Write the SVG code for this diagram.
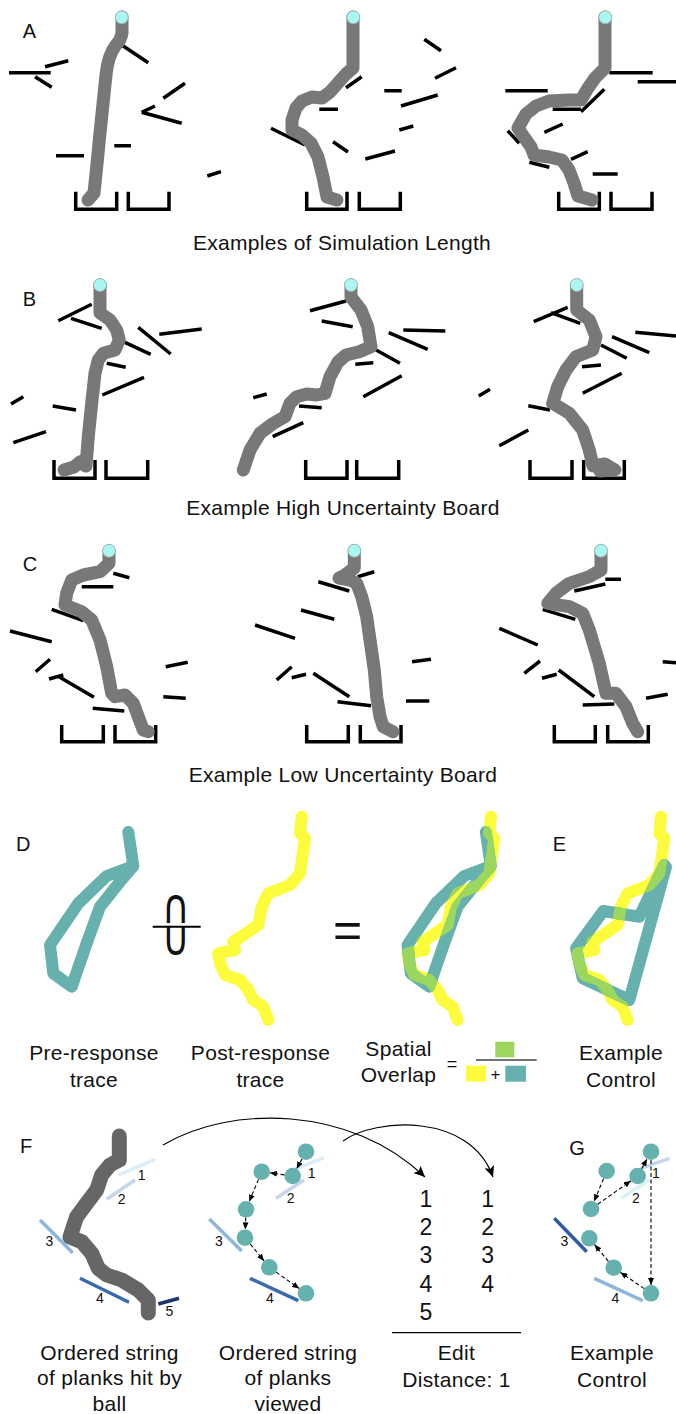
<svg xmlns="http://www.w3.org/2000/svg" width="676" height="1414" viewBox="0 0 676 1414">
<style>
text{font-family:"Liberation Sans",Arial,Helvetica,sans-serif;fill:#111}
.lbl{font-size:20px}
.cap{font-size:21px;text-anchor:middle;letter-spacing:0.3px}
.pl{stroke:#000;stroke-width:3.5;fill:none}
.bk{stroke:#000;stroke-width:3.5;fill:none;stroke-linejoin:miter}
.tr{fill:none;stroke:#787878;stroke-width:13;stroke-linecap:round;stroke-linejoin:round}
.ball{fill:#aaf6f0;stroke:#9aa;stroke-width:0.8}
.num{font-size:14px;text-anchor:middle}
.dig{font-size:23px;text-anchor:middle}
.dash{stroke:#000;stroke-width:1.1;stroke-dasharray:4 2.5;fill:none;marker-end:url(#ah)}
.big{stroke:#000;stroke-width:1.2;fill:none;marker-end:url(#bh)}
.dot{fill:#65b1ad}
.cp{fill:none;stroke-width:3.5}
.op{font-family:"DejaVu Sans",sans-serif;font-size:38px;text-anchor:middle}
</style>
<defs>
<marker id="ah" markerUnits="userSpaceOnUse" markerWidth="7" markerHeight="6" refX="7" refY="3" orient="auto"><path d="M0,0 L7,3 L0,6 z" fill="#000"/></marker>
<marker id="bh" markerUnits="userSpaceOnUse" markerWidth="12" markerHeight="10" refX="11" refY="5" orient="auto"><path d="M0,0 L11,5 L0,10 L2.5,5 z" fill="#000"/></marker>
<path id="pre" d="M128.3,832 L133.3,866 L106.7,876 L78.3,903.3 L50,945 L53.3,973.3 L71.7,986.7 L86.7,943.3 L100,906.7 L120,881.7 L133.3,866" fill="none" stroke-width="12" stroke-linecap="round" stroke-linejoin="round"/>
<path id="post" d="M301.7,816.7 L300,833.3 L305,838.3 L300,873.3 L290,885 L268.3,893.3 L261.7,906.7 L258.3,925 L233.3,941.7 L235,950 L218.3,953.3 L220,963.3 L225,975 L240,980 L248.3,990 L253.3,1000 L263.3,1006.7 L268.3,1020" fill="none" stroke-width="12" stroke-linecap="round" stroke-linejoin="round"/>
<path id="ctrl" d="M664.3,865 L639.3,916.7 L603.3,911 L576,948.3 L582.7,978.3 L629.3,1000 L666,867" fill="none" stroke-width="12" stroke-linecap="round" stroke-linejoin="round"/>
<mask id="mOv" maskUnits="userSpaceOnUse" x="0" y="0" width="676" height="1414"><use href="#post" transform="translate(189.3,0)" stroke="#fff"/></mask>
<mask id="mE" maskUnits="userSpaceOnUse" x="0" y="0" width="676" height="1414"><use href="#post" transform="translate(359.3,0)" stroke="#fff"/></mask>
</defs>
<rect width="676" height="1414" fill="#fff"/>

<!-- Panel A -->
<g id="panelA">
<text class="lbl" x="22.7" y="37.7">A</text>
<g id="A1">
<path class="pl" d="M9,72.7 L50.7,72.7 M45,66.7 L68.3,60.7 M35,76.7 L51.7,87.3 M121.7,45 L148.3,62.7 M163.3,98.3 L185,83.3 M141.7,112.3 L181.7,123.3 M141.7,112.3 L155,106 M114.3,145.7 L131,145.7 M56,155.7 L84,155.7 M207.3,176 L221,171.7"/>
<path class="bk" d="M75.7,191.7 V209.3 H116.7 V191.7 M128.3,191.7 V209.3 H169 V191.7"/>
<path class="tr" d="M122,17 L122,33 Q121,40 116,45 Q108,55 106,75 L100,133 L96.7,167 L94,193 L88,200"/>
<circle class="ball" cx="121.7" cy="17.3" r="6.5"/>
</g>
<g id="A2">
<path class="pl" d="M271,128.3 L305,145 M319.3,109.3 L338,109.3 M333,141.7 L348,152 M346,87.7 L361.7,76.7 M384.3,90.7 L401.7,90.7 M424.3,39.3 L441,50.7 M435,78.3 L456,67.7 M401,106 L437.7,95 M399.3,130 L413.3,126 M365.3,159 L395,151"/>
<path class="bk" d="M306.7,191.7 V209.3 H347 V191.7 M359.3,191.7 V209.3 H400.3 V191.7"/>
<path class="tr" d="M353,17 L353,68 L346,74 L338,83 L330,92 L322,98 L312,97 L302,101 L296,108 L292,120 L292,130 L302,135 L311,143 L318,157 L323,177 L327,197 L337,200"/>
<circle class="ball" cx="353.3" cy="17.3" r="6.5"/>
</g>
<g id="A3">
<path class="pl" d="M505.3,90.7 L547.7,90.7 M609.3,72.7 L652.7,72.7 M637.7,81.7 L676,81.7 M552.7,109.3 L581,109.3 M581,111.7 L604.3,89.3 M507.7,130.7 L519.3,143.3 M544.3,132.3 L562.7,124 M529.3,162.3 L549.3,167.3 M571,159.3 L587.7,151.7 M592.7,174 L617.7,174"/>
<path class="bk" d="M558.7,191.7 V209.3 H599.3 V191.7 M611,191.7 V209.3 H652 V191.7"/>
<path class="tr" d="M605,17 L605,68 L595,78 L588,88 L581,100 L569,100 L549,101 L536,106 L526,114 L518,128 L524,137 L531,147 L534,155 L549,157 L562,160 L569,170 L574,183 L578,196 L592,200"/>
<circle class="ball" cx="605.3" cy="17.3" r="6.5"/>
</g>
<text class="cap" x="342" y="250">Examples of Simulation Length</text>
</g>

<!-- Panel B -->
<g id="panelB">
<text class="lbl" x="22.7" y="306">B</text>
<g id="B1">
<path class="pl" d="M58.3,320.7 L91.7,304.3 M71,318.3 L101.7,328.3 M123.3,341.7 L150.7,354.3 M138.3,327.3 L170.7,354 M159.3,334.3 L201.7,329 M106.7,363.3 L125.7,367.3 M102.3,395 L144,377.3 M11,404 L23.3,396.7 M52.7,406 L76,410 M13.3,442.7 L46,431.7"/>
<path class="bk" d="M54,460 V478.3 H95 V460 M106,460 V478.3 H147.7 V460"/>
<path class="tr" d="M100,285 L100,313 L110,320 L116.7,330 L119.3,340 L115,350 L103.3,353.3 L98.3,360 L95,373.3 L91.7,403.3 L88.3,436.7 L86,466 L80,462 L74,467 L64,470"/>
<circle class="ball" cx="100" cy="285" r="6.5"/>
</g>
<g id="B2">
<path class="pl" d="M310,310.7 L346,301 M321.7,321 L352.7,326.7 M374.3,349 L400,363.3 M388.7,332.7 L427.7,349.3 M403.3,330 L445.3,331 M355.3,364.3 L373.3,362.7 M363.3,396.7 L401.7,375.7 M253.3,397.7 L266.7,394 M299,406 L321.7,407.7 M272.7,436.7 L303.3,422.7"/>
<path class="bk" d="M305.7,460 V478.3 H347 V460 M356.7,460 V478.3 H398.7 V460"/>
<path class="tr" d="M351,285 L351,297 L361,310 L367.7,326.7 L371,346.7 L359.3,351.7 L346,355 L338,362 L330,376.7 L325,393.3 L316.7,395 L306.7,394 L296.7,396.7 L290,403.3 L285,416.7 L273.3,423.3 L260,433.3 L250,450 L243.3,470"/>
<circle class="ball" cx="351" cy="285" r="6.5"/>
</g>
<g id="B3">
<path class="pl" d="M533.7,321.7 L567.7,307.3 M551,312.7 L580.3,323.3 M601,345 L626.7,358.3 M612,336.7 L649.3,352.7 M635.3,332.3 L676,336 M582,366.7 L601,365 M582.7,393.3 L621.7,373.3 M528.3,405.7 L550,410 M499.3,445.7 L528.3,430 M478.7,396 L490,389.3"/>
<path class="bk" d="M530,460 V478.3 H572 V460 M583.7,460 V478.3 H624.3 V460"/>
<path class="tr" d="M576.7,285 L576.7,310 L589.3,320 L596,336.7 L592.7,350 L576,356.7 L566,370 L557.7,386.7 L552.7,403.3 L569.3,413.3 L582.7,430 L589.3,450 L593,466 L605,464 L615,470 L600,471"/>
<circle class="ball" cx="576.7" cy="285" r="6.5"/>
</g>
<text class="cap" x="343" y="515">Example High Uncertainty Board</text>
</g>

<!-- Panel C -->
<g id="panelC">
<text class="lbl" x="22.7" y="570.5">C</text>
<g id="C1">
<path class="pl" d="M113.3,573.3 L129.3,577.7 M81.7,586.7 L113.3,586.7 M51.7,609.3 L83.3,620.7 M10,631 L51.7,641.7 M35.7,671.7 L50,659.3 M49,679 L63.3,675 M57.3,675.7 L94,697.3 M92.7,708.3 L124.3,711 M165.7,666.7 L187.7,662.3 M163.3,696.7 L185.7,698.3"/>
<path class="bk" d="M61.7,725 V741.7 H103.3 V725 M115,725 V741.7 H155.7 V725"/>
<path class="tr" d="M109,550.7 L109,563.3 L100,571.7 L83.3,575 L71.7,580 L66.7,593.3 L65,605 L81.7,611.7 L91.7,620 L100,640 L106.7,666.7 L111.7,693.3 L115,696.7 L125,695 L133.3,703.3 L138.3,716.7 L143.3,730 L148.3,731.7"/>
<circle class="ball" cx="109" cy="550.7" r="6.5"/>
</g>
<g id="C2">
<path class="pl" d="M357.7,576.7 L374.3,571.7 M318.3,581.7 L349.3,591 M301,610 L334.3,619.3 M255,625 L295,638.3 M276.7,680 L291.7,666.7 M291.7,677.7 L306,674.3 M313.3,673.3 L349.3,696.7 M337.5,701.7 L371,705.7 M412,661.7 L431,659.3 M406,701 L429.3,701"/>
<path class="bk" d="M306.7,725 V741.7 H348.3 V725 M360.3,725 V741.7 H401 V725"/>
<path class="tr" d="M354.3,550.7 L354.3,568 L345,575 L339,578 L350,580 L356.7,583.3 L361.7,596.7 L366.7,616.7 L370,640 L374.3,670 L376.7,696.7 L380,716.7 L383.3,726.7 L393,731.7"/>
<circle class="ball" cx="354.3" cy="550.7" r="6.5"/>
</g>
<g id="C3">
<path class="pl" d="M605.3,579.3 L621,579.3 M574.3,591 L605.3,584 M542.7,609.3 L575.3,619.3 M499.3,628.3 L537.7,645 M524.3,673.3 L540,661 M542,678.3 L556.7,674.3 M558.7,670 L594.3,696.7 M582.7,705 L614.3,704 M646,698.3 L667.7,694.3 M662.7,661.7 L676,662.7"/>
<path class="bk" d="M554.3,725 V741.7 H595.3 V725 M607.7,725 V741.7 H648.3 V725"/>
<path class="tr" d="M601,550.7 L601,570 L589.3,576.7 L569.3,583.3 L556,593.3 L547.7,603.3 L569.3,606.7 L582.7,613.3 L589.3,630 L599.3,663.3 L606,693.3 L616,693.3 L626,706.7 L632.7,723.3 L637.7,731.7"/>
<circle class="ball" cx="601" cy="550.7" r="6.5"/>
</g>
<text class="cap" x="343" y="782">Example Low Uncertainty Board</text>
</g>

<!-- Panel D -->
<g id="panelD">
<text class="lbl" x="16" y="851">D</text>
<g id="preTrace"><use href="#pre" stroke="#66b1ad"/></g>
<g id="fracOp">
<text class="op" transform="translate(176,0) scale(1,1.27)"><tspan x="0" y="726.5">∩</tspan><tspan x="0" y="752">∪</tspan></text>
<path d="M152.7,926.7 H200.7" stroke="#000" stroke-width="2"/>
</g>
<g id="postTrace"><use href="#post" stroke="#fcfc3c"/></g>
<text x="333" y="947" style="font-size:50px">=</text>
<g id="overlap">
<use href="#post" transform="translate(189.3,0)" stroke="#fcfc3c"/>
<use href="#pre" transform="translate(357.5,0)" stroke="#66b1ad"/>
<g mask="url(#mOv)"><use href="#pre" transform="translate(357.5,0)" stroke="#9bd75f"/></g>
</g>
<text class="cap" x="94" y="1060">Pre-response</text>
<text class="cap" x="94" y="1086.7">trace</text>
<text class="cap" x="260.5" y="1060">Post-response</text>
<text class="cap" x="260.5" y="1086.7">trace</text>
<text class="cap" x="398.5" y="1056">Spatial</text>
<text class="cap" x="398.5" y="1081.5">Overlap</text>
<g id="formula">
<text x="446.8" y="1070.2" style="font-size:18px">=</text>
<rect x="495.3" y="1041.7" width="19" height="15.7" fill="#9bd75f"/>
<path d="M476,1060 H536.7" stroke="#444" stroke-width="1.3"/>
<rect x="466" y="1065.7" width="20" height="16" fill="#fcfc3c"/>
<text x="495.5" y="1079.5" style="font-size:17px;text-anchor:middle">+</text>
<rect x="505.3" y="1065.7" width="20.7" height="16" fill="#66b1ad"/>
</g>
</g>

<!-- Panel E -->
<g id="panelE">
<text class="lbl" x="552.7" y="851">E</text>
<use href="#post" transform="translate(359.3,0)" stroke="#fcfc3c"/>
<use href="#ctrl" stroke="#66b1ad"/>
<g mask="url(#mE)"><use href="#ctrl" stroke="#9bd75f"/></g>
<text class="cap" x="621" y="1060">Example</text>
<text class="cap" x="621" y="1086.7">Control</text>
</g>

<!-- Panel F -->
<g id="panelF">
<text class="lbl" x="20" y="1153.3">F</text>
<g id="F1">
<path class="cp" stroke="#dcedf8" d="M118.3,1175 L155,1159.3"/>
<path class="cp" stroke="#c5d5ea" d="M106.7,1199.3 L135,1180"/>
<path class="cp" stroke="#8db6dc" d="M40,1220 L72.7,1252.7"/>
<path class="cp" stroke="#3b69b1" d="M80,1278.3 L129,1302.3"/>
<path class="cp" stroke="#1a3670" d="M158.3,1304 L179,1298.3"/>
<path d="M119.3,1136 L119.3,1160 L110,1165 L101.7,1175 L96.7,1190 L86.7,1203.3 L76.7,1216.7 L71.7,1231.7 L70,1237 L81.7,1241.7 L91.7,1253.3 L98.3,1268.3 L106.7,1275 L121.7,1280 L138.3,1290 L148.3,1300 L148.3,1313" fill="none" stroke="#666" stroke-width="15" stroke-linecap="round" stroke-linejoin="round"/>
<text class="num" x="141.7" y="1180">1</text>
<text class="num" x="121.7" y="1204">2</text>
<text class="num" x="49.3" y="1245.5">3</text>
<text class="num" x="100" y="1303">4</text>
<text class="num" x="169.3" y="1316">5</text>
</g>
<g id="F2">
<path class="cp" stroke="#dcedf8" d="M290,1171 L324,1157.7"/>
<path class="cp" stroke="#c5d5ea" d="M276,1198.3 L304,1180"/>
<path class="cp" stroke="#8db6dc" d="M209.3,1219 L241.7,1251"/>
<path class="cp" stroke="#3b69b1" d="M250,1278.3 L298.3,1300.7"/>
<text class="num" x="311.7" y="1178">1</text>
<text class="num" x="290.7" y="1203">2</text>
<text class="num" x="219" y="1245.5">3</text>
<text class="num" x="270" y="1303">4</text>
<circle class="dot" cx="306" cy="1151.7" r="8.3"/>
<circle class="dot" cx="292.7" cy="1176" r="8.3"/>
<circle class="dot" cx="261.7" cy="1171.7" r="8.3"/>
<circle class="dot" cx="246" cy="1209.3" r="8.3"/>
<circle class="dot" cx="245" cy="1237.7" r="8.3"/>
<circle class="dot" cx="269.3" cy="1267.3" r="8.3"/>
<circle class="dot" cx="306" cy="1293.3" r="8.3"/>
</g>
<text class="cap" x="109.5" y="1359.5">Ordered string</text>
<text class="cap" x="109.5" y="1385">of planks hit by</text>
<text class="cap" x="109.5" y="1410.5">ball</text>
<text class="cap" x="288" y="1359.5">Ordered string</text>
<text class="cap" x="288" y="1385">of planks</text>
<text class="cap" x="288" y="1410.5">viewed</text>
<g id="editDist">
<text class="dig" x="426" y="1206.7">1</text>
<text class="dig" x="426" y="1235">2</text>
<text class="dig" x="426" y="1263.3">3</text>
<text class="dig" x="426" y="1291.7">4</text>
<text class="dig" x="426" y="1320">5</text>
<text class="dig" x="487.7" y="1206.7">1</text>
<text class="dig" x="487.7" y="1235">2</text>
<text class="dig" x="487.7" y="1263.3">3</text>
<text class="dig" x="487.7" y="1291.7">4</text>
<path d="M392,1332.7 H521" stroke="#000" stroke-width="1.3"/>
<text class="cap" x="456.5" y="1360">Edit</text>
<text class="cap" x="456.5" y="1386.7">Distance: 1</text>
</g>
</g>

<!-- Panel G -->
<g id="panelG">
<text class="lbl" x="569.3" y="1155">G</text>
<path class="cp" stroke="#c5d5ea" d="M641,1168.3 L669.3,1158.3"/>
<path class="cp" stroke="#dcf0f8" d="M621,1198.3 L649.3,1180"/>
<path class="cp" stroke="#2f5aa8" d="M554.3,1218.3 L586.7,1251.7"/>
<path class="cp" stroke="#8db6dc" d="M594.3,1278.3 L642.7,1300.7"/>
<text class="num" x="656" y="1178">1</text>
<text class="num" x="636" y="1203">2</text>
<text class="num" x="564.3" y="1245.5">3</text>
<text class="num" x="615.3" y="1303">4</text>
<circle class="dot" cx="606.7" cy="1171" r="8.3"/>
<circle class="dot" cx="651" cy="1151.7" r="8.3"/>
<circle class="dot" cx="637.7" cy="1176" r="8.3"/>
<circle class="dot" cx="591" cy="1209" r="8.3"/>
<circle class="dot" cx="589.3" cy="1238.3" r="8.3"/>
<circle class="dot" cx="613.7" cy="1267.7" r="8.3"/>
<circle class="dot" cx="651" cy="1293.3" r="8.3"/>
<text class="cap" x="612" y="1360">Example</text>
<text class="cap" x="612" y="1386.7">Control</text>
</g>

<!-- Connectors -->
<g id="connectors">
<path class="dash" d="M302,1159 L296.7,1168.7"/>
<path class="dash" d="M284.5,1174.9 L269.9,1172.8"/>
<path class="dash" d="M258.5,1179.4 L249.2,1201.6"/>
<path class="dash" d="M245.7,1217.6 L245.3,1229.4"/>
<path class="dash" d="M250.3,1244.1 L264,1260.9"/>
<path class="dash" d="M276.1,1272.1 L299.2,1288.5"/>
<path class="dash" d="M603.5,1178.7 L594.2,1201.3"/>
<path class="dash" d="M597.8,1204.2 L630.9,1180.8"/>
<path class="dash" d="M641.7,1168.7 L647,1159"/>
<path class="dash" d="M651,1160 L651,1285"/>
<path class="dash" d="M644.2,1288.6 L620.5,1272.4"/>
<path class="dash" d="M608.4,1261.3 L594.6,1244.7"/>
<path class="big" d="M163,1145 C230,1105 350,1105 425,1177"/>
<path class="big" d="M343,1141 C375,1118 470,1112 493,1177"/>
</g>
</svg>
